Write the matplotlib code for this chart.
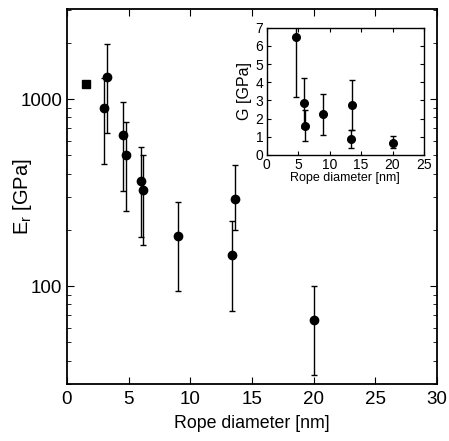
import matplotlib
matplotlib.use("Agg")
import matplotlib.pyplot as plt
import numpy as np

plt.rcParams['font.family'] = ['Liberation Sans', 'DejaVu Sans']

# Main panel data
sq_x = [1.5]
sq_y = [1200]
main_x = [3.0, 3.25, 4.5, 4.75, 6.0, 6.2, 9.0, 13.4, 13.65, 20.0]
main_y = [900, 1320, 645, 500, 366, 328, 186, 147, 294, 66]
main_lo = [450, 660, 321, 251, 183, 165, 94, 74, 200, 33.5]
main_hi = [1300, 1980, 960, 757, 552, 500, 282, 224, 444, 100]

# Inset data
ins_x = [4.7, 5.85, 6.05, 9.0, 13.35, 13.6, 20.0]
ins_y = [6.47, 2.84, 1.62, 2.25, 0.88, 2.73, 0.65]
ins_lo = [3.2, 1.5, 0.79, 1.08, 0.37, 1.35, 0.4]
ins_hi = [7.5, 4.25, 2.5, 3.37, 1.35, 4.1, 1.04]

fig = plt.figure(figsize=(4.49, 4.41), dpi=100)
W, H = 449, 441
ax = fig.add_axes([67 / W, 1 - 384 / H, (437 - 67) / W, (384 - 9) / H])

my = np.array(main_y)
yerr = [my - np.array(main_lo), np.array(main_hi) - my]
ax.errorbar(main_x, main_y, yerr=yerr, fmt='o', color='black', ms=6,
            elinewidth=1.0, capsize=2.5, capthick=1.0)
ax.plot(sq_x, sq_y, 's', color='black', ms=5.5)
ax.set_yscale('log')
ax.set_xlim(0, 30)
ax.set_ylim(30, 3030)
ax.set_xticks([0, 5, 10, 15, 20, 25, 30])
ax.set_yticks([100, 1000])
ax.set_yticklabels(['100', '1000'])
ax.tick_params(which='both', direction='in', top=True, right=True, labelsize=13.5)
ax.tick_params(which='major', length=5)
ax.tick_params(which='minor', length=3)
ax.tick_params(axis='x', pad=5)
ax.set_xlabel('Rope diameter [nm]', fontsize=12.8)
ax.xaxis.set_label_coords(0.5, -(423 - 384) / 375, transform=ax.transAxes)
ax.set_ylabel(r'E$_\mathregular{r}$ [GPa]', fontsize=14.5)
ax.yaxis.set_label_coords(-(67 - 23) / 370, 0.5, transform=ax.transAxes)
ax.xaxis.label.set_va('center')
ax.yaxis.label.set_va('center')
for s in ax.spines.values():
    s.set_linewidth(1.3)

# Inset
axi = fig.add_axes([266.7 / W, 1 - 155 / H, (424 - 266.7) / W, (155 - 27.7) / H])
iy = np.array(ins_y)
ierr = [iy - np.array(ins_lo), np.array(ins_hi) - iy]
axi.errorbar(ins_x, ins_y, yerr=ierr, fmt='o', color='black', ms=5.5,
             elinewidth=1.0, capsize=2, capthick=1.0)
axi.set_xlim(0, 25)
axi.set_ylim(0, 7)
axi.set_xticks([0, 5, 10, 15, 20, 25])
axi.set_yticks(range(8))
axi.tick_params(which='both', direction='in', top=True, right=True, labelsize=10,
                length=3)
axi.tick_params(axis='x', pad=2)
axi.tick_params(axis='y', pad=2.5)
axi.set_xlabel('Rope diameter [nm]', fontsize=9)
axi.xaxis.set_label_coords(0.5, -(178 - 155) / 127.3, transform=axi.transAxes)
axi.xaxis.label.set_va('center')
axi.set_ylabel('G [GPa]', fontsize=11.5)
axi.yaxis.set_label_coords(-(266.7 - 245) / 157.3, 0.5, transform=axi.transAxes)
axi.yaxis.label.set_va('center')
for s in axi.spines.values():
    s.set_linewidth(1.0)

fig.savefig('out.png', dpi=100)
